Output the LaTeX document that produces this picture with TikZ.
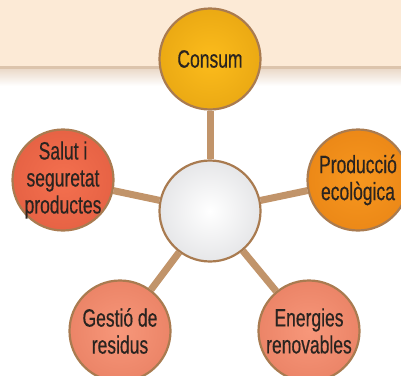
\documentclass[tikz,border=0pt]{standalone}
\usepackage{fontspec}
\setmainfont[FakeStretch=0.7, FakeBold=0.4]{Liberation Sans}
\usetikzlibrary{backgrounds}

\definecolor{peach}{HTML}{FCEAD6}
\definecolor{peachline}{HTML}{DCC4AC}
\definecolor{peachfade}{HTML}{EBDACA}
\definecolor{stickcol}{HTML}{C1946A}
\definecolor{rimcol}{HTML}{A97B50}
\definecolor{inkcol}{HTML}{2A2420}
\definecolor{yelIn}{HTML}{FCBC1C}
\definecolor{yelOut}{HTML}{DA970B}
\definecolor{orIn}{HTML}{F7971F}
\definecolor{orOut}{HTML}{E17A0F}
\definecolor{redIn}{HTML}{F4704F}
\definecolor{redOut}{HTML}{D9553A}
\definecolor{salIn}{HTML}{F7977A}
\definecolor{salOut}{HTML}{E07255}
\definecolor{hubIn}{HTML}{FFFFFF}
\definecolor{hubOut}{HTML}{CDCED2}

\makeatletter
\pgfdeclareradialshading[tikz@radial@inner,tikz@radial@outer]{bubbleshade}{\pgfpointorigin}{color(0bp)=(tikz@radial@inner); color(50bp)=(tikz@radial@outer)}
\makeatother

\tikzset{
  bubble/.style 2 args={circle, draw=rimcol, line width=2.2pt, minimum size=101pt, inner sep=-20pt,
    inner color=#1, outer color=#2, shading=bubbleshade, align=center, text=inkcol,
    font=\fontsize{25}{27}\selectfont},
  stick/.style={draw=stickcol, line width=7pt}
}

\begin{document}
\begin{tikzpicture}[x=1pt, y=-1pt]
		\useasboundingbox (0,0) rectangle (401,375);

		\node[bubble={yelIn}{yelOut}] (consum) at (210,59) {Consum};
		\node[bubble={hubIn}{hubOut}] (hub) at (210,211) {};
		\node[bubble={redIn}{redOut}] (salut) at (63,180) {Salut i\\seguretat\\productes};
		\node[bubble={orIn}{orOut}] (produccio) at (358,180) {Producció\\ecològica};
		\node[bubble={salIn}{salOut}] (gestio) at (120,331) {Gestió de\\residus};
		\node[bubble={salIn}{salOut}] (energies) at (309,331) {Energies\\renovables};

		\begin{scope}[on background layer]
			\fill[peach] (0,0) rectangle (401,67);
			\fill[peachline] (0,66) rectangle (401,69);
			\shade[top color=peachfade, bottom color=white] (0,69) rectangle (401,86);

			\draw[stick] (hub) -- (consum);
			\draw[stick] (hub) -- (salut);
			\draw[stick] (hub) -- (produccio);
			\draw[stick] (hub) -- (gestio);
			\draw[stick] (hub) -- (energies);
		\end{scope}
	\end{tikzpicture}
\end{document}
